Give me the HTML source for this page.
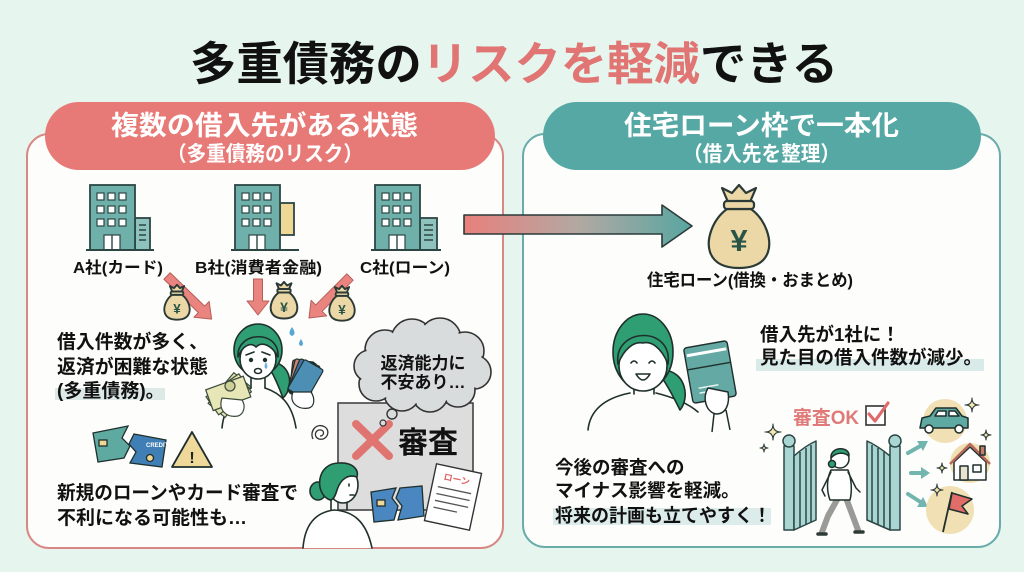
<!DOCTYPE html>
<html><head><meta charset="utf-8">
<style>
html,body{margin:0;padding:0;width:1024px;height:572px;overflow:hidden;background:#e6f5ee;}
svg{display:block}
text{font-family:"Liberation Sans","Noto Sans CJK JP",sans-serif;font-weight:700;}
</style></head><body>
<svg width="1024" height="572" viewBox="0 0 1024 572" xmlns="http://www.w3.org/2000/svg">
<defs>
<linearGradient id="ag" x1="0" x2="1" y1="0" y2="0">
<stop offset="0" stop-color="#e9807c"/><stop offset="0.5" stop-color="#b3a8a2"/><stop offset="1" stop-color="#58a6a1"/>
</linearGradient>
</defs>
<rect width="1024" height="572" fill="#e6f5ee"/>

<!-- panels -->
<rect x="27" y="134" width="476" height="414" rx="22" fill="#fdfdfb" stroke="#d98784" stroke-width="2"/>
<rect x="523" y="134" width="477" height="413" rx="22" fill="#fdfdfb" stroke="#69aca9" stroke-width="2"/>

<!-- pills -->
<rect x="45" y="102" width="450" height="68" rx="34" fill="#e77a77"/>
<rect x="543" y="102" width="438" height="68" rx="34" fill="#56a8a4"/>
<text x="111" y="135" font-size="27" fill="#fff" textLength="307" lengthAdjust="spacingAndGlyphs">複数の借入先がある状態</text>
<text x="167" y="161" font-size="21" fill="#fff" textLength="196" lengthAdjust="spacingAndGlyphs">（多重債務のリスク）</text>
<text x="624" y="135" font-size="27" fill="#fff" textLength="275" lengthAdjust="spacingAndGlyphs">住宅ローン枠で一本化</text>
<text x="683" y="161" font-size="21" fill="#fff" textLength="157" lengthAdjust="spacingAndGlyphs">（借入先を整理）</text>

<!-- title -->
<text x="190" y="80" font-size="46" fill="#111" textLength="648" lengthAdjust="spacingAndGlyphs">多重債務の<tspan fill="#e07573">リスクを軽減</tspan>できる</text>

<!-- big arrow -->
<path d="M464 215 H662 V205 L692 226 L662 247 V234 H464 Z" fill="url(#ag)" stroke="#2b3b3a" stroke-width="1.6" stroke-linejoin="round"/>

<!-- buildings -->
<g stroke="#2c4644" stroke-width="1.8">
<rect x="135" y="218" width="15" height="32" fill="#8ec3bd"/>
<rect x="90" y="185" width="45" height="65" fill="#6fb0aa"/>
<rect x="280" y="203" width="14" height="32" fill="#efd796"/>
<rect x="235" y="185" width="45" height="65" fill="#6fb0aa"/>
<rect x="420" y="218" width="17" height="32" fill="#8ec3bd"/>
<rect x="375" y="185" width="45" height="65" fill="#6fb0aa"/>
</g>
<g fill="#fff" stroke="#2c4644" stroke-width="1.2">
<rect x="97" y="193" width="7" height="7"/><rect x="108" y="193" width="7" height="7"/><rect x="119" y="193" width="7" height="7"/>
<rect x="97" y="206" width="7" height="7"/><rect x="108" y="206" width="7" height="7"/><rect x="119" y="206" width="7" height="7"/>
<rect x="97" y="219" width="7" height="7"/><rect x="108" y="219" width="7" height="7"/><rect x="119" y="219" width="7" height="7"/>
<rect x="104" y="235" width="16" height="15"/>
<rect x="242" y="193" width="7" height="7"/><rect x="253" y="193" width="7" height="7"/><rect x="264" y="193" width="7" height="7"/>
<rect x="242" y="206" width="7" height="7"/><rect x="253" y="206" width="7" height="7"/><rect x="264" y="206" width="7" height="7"/>
<rect x="242" y="219" width="7" height="7"/><rect x="253" y="219" width="7" height="7"/><rect x="264" y="219" width="7" height="7"/>
<rect x="249" y="235" width="16" height="15"/>
<rect x="382" y="193" width="7" height="7"/><rect x="393" y="193" width="7" height="7"/><rect x="404" y="193" width="7" height="7"/>
<rect x="382" y="206" width="7" height="7"/><rect x="393" y="206" width="7" height="7"/><rect x="404" y="206" width="7" height="7"/>
<rect x="382" y="219" width="7" height="7"/><rect x="393" y="219" width="7" height="7"/><rect x="404" y="219" width="7" height="7"/>
<rect x="389" y="235" width="16" height="15"/>
</g>
<g stroke="#2c4644" stroke-width="1.4">
<path d="M112 235 V250 M257 235 V250 M397 235 V250"/>
<path d="M139 225 H146 M139 230 H146 M139 235 H146 M139 240 H146"/>
<path d="M424 225 H433 M424 230 H433 M424 235 H433 M424 240 H433"/>
<path d="M86 250 H154 M231 250 H299 M371 250 H441" stroke-width="2"/>
</g>
<text x="73" y="273" font-size="16" fill="#111" textLength="90" lengthAdjust="spacingAndGlyphs">A社(カード)</text>
<text x="195" y="273" font-size="16" fill="#111" textLength="127" lengthAdjust="spacingAndGlyphs">B社(消費者金融)</text>
<text x="360" y="273" font-size="16" fill="#111" textLength="90" lengthAdjust="spacingAndGlyphs">C社(ローン)</text>

<!-- red arrows -->
<g fill="#e9847f" stroke="#b65e5a" stroke-width="1" stroke-linejoin="round">
<path transform="translate(167,276) rotate(44)" d="M0 -4.5 H48 V-11 L62 0 L48 11 V4.5 H0 Z"/>
<path transform="translate(258,279) rotate(90)" d="M0 -4.5 H22 V-11 L36 0 L22 11 V4.5 H0 Z"/>
<path transform="translate(350,277) rotate(135)" d="M0 -4.5 H44 V-11 L58 0 L44 11 V4.5 H0 Z"/>
</g>

<!-- small money bags -->
<g transform="translate(177,302) scale(0.42)" stroke="#2b3a36" stroke-width="4.5" stroke-linejoin="round" fill="#ecd8a6">
<path d="M-12 -17 C-27 -6 -33 14 -29 26 C-25 38 -13 42 0 42 C13 42 25 38 29 26 C33 14 27 -6 12 -17 Z"/>
<path d="M-11 -24 L-17 -38 L-7 -33 L0 -41 L7 -33 L17 -38 L11 -24 Z"/>
<rect x="-15" y="-25" width="30" height="8" rx="3"/>
<text x="0" y="27" font-size="32" text-anchor="middle" fill="#2a5546" stroke="none">¥</text>
</g>
<g transform="translate(284,300) scale(0.44)" stroke="#2b3a36" stroke-width="4.5" stroke-linejoin="round" fill="#ecd8a6">
<path d="M-12 -17 C-27 -6 -33 14 -29 26 C-25 38 -13 42 0 42 C13 42 25 38 29 26 C33 14 27 -6 12 -17 Z"/>
<path d="M-11 -24 L-17 -38 L-7 -33 L0 -41 L7 -33 L17 -38 L11 -24 Z"/>
<rect x="-15" y="-25" width="30" height="8" rx="3"/>
<text x="0" y="27" font-size="32" text-anchor="middle" fill="#2a5546" stroke="none">¥</text>
</g>
<g transform="translate(342,303) scale(0.42)" stroke="#2b3a36" stroke-width="4.5" stroke-linejoin="round" fill="#ecd8a6">
<path d="M-12 -17 C-27 -6 -33 14 -29 26 C-25 38 -13 42 0 42 C13 42 25 38 29 26 C33 14 27 -6 12 -17 Z"/>
<path d="M-11 -24 L-17 -38 L-7 -33 L0 -41 L7 -33 L17 -38 L11 -24 Z"/>
<rect x="-15" y="-25" width="30" height="8" rx="3"/>
<text x="0" y="27" font-size="32" text-anchor="middle" fill="#2a5546" stroke="none">¥</text>
</g>

<!-- woman 1 -->
<g stroke="#1f2f2c" stroke-width="1.6" stroke-linejoin="round" stroke-linecap="round">
<path d="M272 362 C292 364 294 388 283 398 C279 387 274 376 270 369 Z" fill="#2f9e73"/>
<ellipse cx="258" cy="350" rx="24" ry="26" fill="#2f9e73"/>
<path d="M251 372 V388 M265 372 V388" fill="none"/>
<path d="M222 428 C224 405 238 393 251 388 M265 388 C280 393 292 403 296 428" fill="none"/>
<ellipse cx="258" cy="359" rx="18" ry="20" fill="#fff"/>
<path d="M238 357 C236 331 280 329 278 357 C272 345 262 341 256 347 C250 341 242 347 238 357 Z" fill="#2f9e73"/>
<path d="M246 355 L254 352 M270 355 L262 352" fill="none"/>
<circle cx="251" cy="360" r="1.4" fill="#1f2f2c"/><circle cx="265" cy="360" r="1.4" fill="#1f2f2c"/>
<ellipse cx="258" cy="371" rx="3.5" ry="2.5" fill="#fff"/>
</g>
<path d="M266 362 q-3 5 0 7 q3 -2 0 -7 Z" fill="#6fb3dc"/>
<path d="M292 327 q-5 7 0 9 q5 -2 0 -9 Z" fill="#5aa7d6"/>
<path d="M301 339 q-4 6 0 7 q4 -1 0 -7 Z" fill="#5aa7d6"/>
<!-- cash fan -->
<g transform="translate(232,392)" stroke="#3a4a3a" stroke-width="1.2">
<rect x="-24" y="-11" width="40" height="22" transform="rotate(-50)" fill="#dfe2ae"/>
<rect x="-24" y="-11" width="40" height="22" transform="rotate(-35)" fill="#e3e4b2"/>
<rect x="-24" y="-11" width="40" height="22" transform="rotate(-20)" fill="#e6e6b6"/>
<circle cx="-2" cy="-6" r="5" fill="#cfcf98"/>
<path d="M-10 6 C-14 18 -6 26 6 24 C12 22 14 14 10 8 Z" fill="#fff"/>
</g>
<!-- cards -->
<g transform="translate(303,378)" stroke="#1f2f2c" stroke-width="1.2">
<rect x="-12" y="-17" width="22" height="34" rx="2" transform="rotate(6)" fill="#b05a5a"/>
<rect x="-12" y="-17" width="22" height="34" rx="2" transform="rotate(14)" fill="#d18270"/>
<rect x="-10" y="-17" width="22" height="34" rx="2" transform="rotate(22)" fill="#3f75a8"/>
<rect x="-8" y="-17" width="22" height="34" rx="2" transform="rotate(30)" fill="#4d8fb4"/>
<path d="M-10 14 C-14 24 -6 32 6 30 C12 28 12 20 8 14 Z" fill="#fff"/>
</g>

<!-- left texts -->
<rect x="55" y="388" width="110" height="12" fill="#dde9e7"/>
<text x="57" y="348" font-size="19" fill="#111" textLength="151" lengthAdjust="spacingAndGlyphs">借入件数が多く、</text>
<text x="57" y="373" font-size="19" fill="#111" textLength="151" lengthAdjust="spacingAndGlyphs">返済が困難な状態</text>
<text x="57" y="397" font-size="19" fill="#111">(多重債務)。</text>

<!-- gray box + cloud -->
<rect x="338" y="403" width="135" height="107" fill="#dcdddc" stroke="#444" stroke-width="1.6"/>
<path d="M356 424 L389 456 M389 424 L356 456" stroke="#e07470" stroke-width="8" stroke-linecap="round"/>
<text x="398" y="453" font-size="30" fill="#111" textLength="60" lengthAdjust="spacingAndGlyphs">審査</text>
<g stroke="#333" stroke-width="1.6" fill="#d9dcdc">
<circle cx="385" cy="350" r="20"/><circle cx="412" cy="340" r="21"/><circle cx="440" cy="339" r="21"/>
<circle cx="465" cy="351" r="19"/><circle cx="474" cy="372" r="17"/><circle cx="458" cy="390" r="17"/>
<circle cx="430" cy="394" r="18"/><circle cx="402" cy="393" r="18"/><circle cx="376" cy="384" r="17"/><circle cx="370" cy="366" r="16"/>
</g>
<g fill="#d9dcdc">
<circle cx="385" cy="350" r="18.5"/><circle cx="412" cy="340" r="19.5"/><circle cx="440" cy="339" r="19.5"/>
<circle cx="465" cy="351" r="17.5"/><circle cx="474" cy="372" r="15.5"/><circle cx="458" cy="390" r="15.5"/>
<circle cx="430" cy="394" r="16.5"/><circle cx="402" cy="393" r="16.5"/><circle cx="376" cy="384" r="15.5"/><circle cx="370" cy="366" r="14.5"/>
<ellipse cx="422" cy="368" rx="50" ry="28"/>
</g>
<circle cx="392" cy="414" r="5" fill="#d9dcdc" stroke="#333" stroke-width="1.4"/>
<circle cx="383" cy="423" r="3" fill="#d9dcdc" stroke="#333" stroke-width="1.2"/>
<text x="423" y="369" font-size="17" fill="#111" text-anchor="middle">返済能力に</text>
<text x="423" y="388" font-size="17" fill="#111" text-anchor="middle">不安あり…</text>

<!-- swirl -->
<path d="M320 436 c4 0 5 -5 1 -6 c-6 -1 -8 7 -2 9 c8 2 12 -8 6 -12 c-8 -5 -16 4 -12 12" fill="none" stroke="#333" stroke-width="1.3"/>

<!-- woman 2 -->
<g stroke="#1f2f2c" stroke-width="1.6" stroke-linejoin="round" stroke-linecap="round">
<path d="M303 548 C305 522 318 512 334 510 C352 511 366 520 372 548" fill="#fff"/>
<path d="M331 498 V510 M347 498 V510" fill="none"/>
<ellipse cx="318" cy="491" rx="8" ry="9" fill="#2f9e73"/>
<ellipse cx="343" cy="485" rx="15" ry="18" fill="#fff"/>
<path d="M330 500 C314 494 316 463 339 463 C353 462 359 470 357 477 C349 474 341 478 337 490 C335 497 333 500 330 500 Z" fill="#2f9e73"/>
<path d="M349 484 v2 M350 495 h4" fill="none"/>
</g>
<!-- broken card -->
<g stroke="#1f2f2c" stroke-width="1.3">
<path d="M371 492 L396 488 L392 498 L398 506 L394 520 L374 522 Z" fill="#4a86c0"/>
<path d="M400 488 L422 486 L424 516 L398 520 L402 506 L396 498 Z" fill="#4a86c0"/>
<rect x="377" y="500" width="8" height="6" fill="#f0d89a"/>
</g>
<!-- document -->
<g transform="rotate(12 453 497)">
<rect x="430" y="468" width="46" height="58" fill="#fff" stroke="#333" stroke-width="1.4"/>
<text x="453" y="482" font-size="9" fill="#d66" text-anchor="middle">ローン</text>
<path d="M436 490 H470 M436 497 H470 M436 504 H470 M436 511 H460" stroke="#555" stroke-width="1.3"/>
</g>

<!-- left cards + warning -->
<g stroke="#1f2f2c" stroke-width="1.3">
<path d="M93 433 L128 426 L122 438 L130 446 L124 458 L98 462 Z" fill="#5ea9a0"/>
<rect x="99" y="440" width="8" height="6" fill="#efd796"/>
<path d="M134 434 L166 440 L162 467 L130 463 L136 452 L129 444 Z" fill="#3f7fb5"/>
<circle cx="150" cy="458" r="3.5" fill="#efd796"/>
<path d="M192 432 L212 467 L172 467 Z" fill="#efd99a" stroke-width="1.8" stroke-linejoin="round"/>
</g>
<text x="146" y="447" font-size="6" fill="#fff">CREDIT</text>
<text x="192" y="463" font-size="16" fill="#222" text-anchor="middle">!</text>

<text x="57" y="499" font-size="19" fill="#111" textLength="241" lengthAdjust="spacingAndGlyphs">新規のローンやカード審査で</text>
<text x="57" y="524" font-size="19" fill="#111">不利になる可能性も…</text>

<!-- big money bag -->
<g transform="translate(739,226)" stroke="#2b3a36" stroke-width="2.2" stroke-linejoin="round" fill="#ecd8a6">
<path d="M-12 -17 C-27 -6 -33 14 -29 26 C-25 38 -13 42 0 42 C13 42 25 38 29 26 C33 14 27 -6 12 -17 Z"/>
<path d="M-11 -24 L-17 -38 L-7 -33 L0 -41 L7 -33 L17 -38 L11 -24 Z"/>
<rect x="-15" y="-25" width="30" height="8" rx="3"/>
<text x="0" y="25" font-size="31" text-anchor="middle" fill="#2a5546" stroke="none">¥</text>
</g>
<text x="647" y="286" font-size="17" fill="#111" textLength="206" lengthAdjust="spacingAndGlyphs">住宅ローン(借換・おまとめ)</text>

<!-- woman 3 -->
<g stroke="#1f2f2c" stroke-width="1.6" stroke-linejoin="round" stroke-linecap="round">
<path d="M588 430 C590 410 605 398 630 393 M656 393 C676 398 690 405 698 412" fill="none"/>
<path d="M634 386 V394 M654 386 V394" fill="none"/>
<path d="M664 370 C686 372 690 398 680 410 C674 398 668 386 662 378 Z" fill="#2f9e73"/>
<ellipse cx="643" cy="352" rx="30" ry="38" fill="#2f9e73"/>
<ellipse cx="643" cy="366" rx="24" ry="25" fill="#fff"/>
<path d="M618 364 C613 327 673 325 668 364 C661 347 651 341 643 343 C634 341 624 349 618 364 Z" fill="#2f9e73"/>
<path d="M631 363 q3 -4 6 0 M649 363 q3 -4 6 0" fill="none"/>
<path d="M636 374 Q643 386 650 374 Z" fill="#fff"/>
</g>
<g transform="rotate(-10 710 372)" stroke="#1f2f2c" stroke-width="1.4">
<rect x="688" y="344" width="44" height="56" rx="3" fill="#64a9a3"/>
<path d="M690 352 H730" stroke="#fff" stroke-width="3"/>
<path d="M688 366 H732" stroke="#1f2f2c"/>
<path d="M696 386 H716 M696 391 H712" stroke="#e6f3f1" stroke-width="1.5"/>
</g>
<path d="M708 388 C702 398 706 412 716 414 C726 414 730 404 728 392 Z M714 414 L712 432 M726 410 L730 430" fill="#fff" stroke="#1f2f2c" stroke-width="1.5" stroke-linejoin="round"/>

<!-- right texts -->
<rect x="756" y="359" width="228" height="12" fill="#d8ebe9"/>
<text x="760" y="341" font-size="18.5" fill="#111">借入先が1社に！</text>
<text x="760" y="364" font-size="18.5" fill="#111" textLength="222" lengthAdjust="spacingAndGlyphs">見た目の借入件数が減少。</text>

<rect x="553" y="508" width="218" height="17" fill="#dcecea"/>
<text x="555" y="474" font-size="18.5" fill="#111">今後の審査への</text>
<text x="555" y="497" font-size="18.5" fill="#111">マイナス影響を軽減。</text>
<text x="555" y="522" font-size="18.5" fill="#111" textLength="216" lengthAdjust="spacingAndGlyphs">将来の計画も立てやすく！</text>

<!-- 審査OK -->
<text x="793" y="424" font-size="19" fill="#e07a78" textLength="66" lengthAdjust="spacingAndGlyphs">審査OK</text>
<rect x="866" y="406" width="19" height="19" fill="#fff" stroke="#333" stroke-width="1.6"/>
<path d="M869 414 L875 421 L888 403" fill="none" stroke="#e06a6a" stroke-width="3.2" stroke-linecap="round" stroke-linejoin="round"/>

<!-- gates -->
<g stroke="#2c4644" stroke-width="1.5" fill="#a9d6d3" stroke-linejoin="round">
<rect x="784" y="446" width="10" height="84"/>
<circle cx="789" cy="441" r="6"/>
<path d="M794 456 Q805 446 816 441 V520 L794 530 Z"/>
<path d="M800 452 V527 M806 448 V525 M811 445 V522" fill="none"/>
<path d="M867 441 Q878 446 890 456 V530 L867 520 Z"/>
<rect x="890" y="446" width="10" height="84"/>
<circle cx="895" cy="441" r="6"/>
<path d="M872 445 V522 M878 448 V525 M884 452 V527" fill="none"/>
</g>
<!-- walking person -->
<g stroke="#1f2f2c" stroke-width="1.5" stroke-linejoin="round" stroke-linecap="round">
<path d="M838 498 L828 516 L822 532 M846 498 L852 514 L858 530" fill="none" stroke="#9a9a96" stroke-width="6"/>
<path d="M818 534 L826 534 M855 532 L863 532" stroke="#2d3a36" stroke-width="3.5"/>
<path d="M831 470 C826 480 827 492 830 500 H850 C852 492 852 480 848 470 Z" fill="#fff"/>
<path d="M831 472 L822 490 L825 496 M848 472 L856 488 L860 492" fill="none"/>
<circle cx="840" cy="459" r="9" fill="#fff"/>
<path d="M831 458 C830 446 850 446 849 456 C844 452 836 452 831 458 Z" fill="#2f9e73"/>
<circle cx="832" cy="464" r="3.5" fill="#2f9e73"/>
</g>
<!-- teal arrows -->
<g stroke="#72b5ae" stroke-width="4" fill="none" stroke-linecap="round">
<path d="M908 453 L922 445"/><path d="M911 473 L924 473"/><path d="M908 494 L922 503"/>
</g>
<g fill="#72b5ae">
<path d="M928 441 L917 441 L923 451 Z"/><path d="M930 473 L921 467 L921 479 Z"/><path d="M928 507 L923 497 L917 507 Z"/>
</g>
<!-- goal circles -->
<circle cx="945" cy="421" r="22" fill="#f0e0b4"/>
<circle cx="970" cy="463" r="20" fill="#f0e0b4"/>
<circle cx="950" cy="510" r="24" fill="#f0e0b4"/>
<g stroke="#1f2f2c" stroke-width="1.5" stroke-linejoin="round">
<path d="M920 428 L922 418 L930 416 L936 408 L956 408 L962 416 L968 418 L968 428 Z" fill="#5ea9a2"/>
<path d="M938 411 H946 V416 H935 Z M949 411 H955 L959 416 H949 Z" fill="#fff"/>
<circle cx="929" cy="429" r="4" fill="#fff"/><circle cx="959" cy="429" r="4" fill="#fff"/>
<path d="M954 462 L970 447 L986 462 V480 H954 Z" fill="#fff"/>
<path d="M950 464 L970 444 L990 464" fill="none" stroke="#b86a5a" stroke-width="2.5"/>
<rect x="980" y="446" width="5" height="9" fill="#c67c6a"/>
<rect x="960" y="466" width="8" height="14" fill="#e9e2d0"/>
<rect x="973" y="465" width="8" height="7" fill="#fff"/>
<path d="M943 532 L952 492" fill="none" stroke-width="1.8"/>
<path d="M952 493 L972 499 L962 506 L968 514 L949 509 Z" fill="#e06d68"/>
</g>
<!-- sparkles -->
<g fill="#f3e7b0" stroke="#2b3a36" stroke-width="1.1" stroke-linejoin="round">
<path d="M773 424 Q773 432 781 432 Q773 432 773 440 Q773 432 765 432 Q773 432 773 424 Z"/>
<path d="M764 444 Q764 448 768 448 Q764 448 764 452 Q764 448 760 448 Q764 448 764 444 Z"/>
<path d="M972 398 Q972 405 979 405 Q972 405 972 412 Q972 405 965 405 Q972 405 972 398 Z"/>
<path d="M986 430 Q986 435 991 435 Q986 435 986 440 Q986 435 981 435 Q986 435 986 430 Z"/>
<path d="M942 463 Q942 468 947 468 Q942 468 942 473 Q942 468 937 468 Q942 468 942 463 Z"/>
<path d="M937 484 Q937 490 943 490 Q937 490 937 496 Q937 490 931 490 Q937 490 937 484 Z"/>
</g>
</svg>
</body></html>
